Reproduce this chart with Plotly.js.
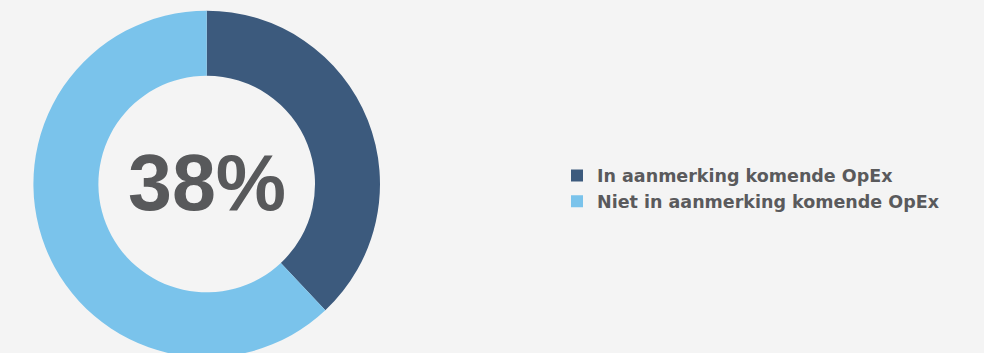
<!DOCTYPE html>
<html>
<head>
<meta charset="utf-8">
<script src="https://cdn.plot.ly/plotly-3.0.1.min.js"></script>
<style>
html,body{margin:0;padding:0;overflow:hidden;background:#F4F4F4;}
#chart{width:984px;height:368px;}
</style>
</head>
<body>
<div id="chart"></div>
<script>
const labels = ["In aanmerking komende OpEx", "Niet in aanmerking komende OpEx"];
const values = [38, 62];
const colors = ["#3C5A7D", "#7AC3EB"];
const centerLabel = "38%";

const W = 984, H = 368;
const cx = 206.7, r = 173.3;

const data = [{
  type: "pie",
  labels: labels,
  values: values,
  hole: 0.625,
  sort: false,
  direction: "clockwise",
  rotation: 0,
  textinfo: "none",
  hoverinfo: "label+percent",
  marker: {colors: colors, line: {width: 0}},
  domain: {x: [(cx - r) / W, (cx + r) / W], y: [0, 1]}
}];

const layout = {
  width: W, height: H,
  margin: {l: 0, r: 0, t: 0, b: 0},
  paper_bgcolor: "#F4F4F4",
  plot_bgcolor: "#F4F4F4",
  showlegend: true,
  legend: {
    x: 557 / W, xanchor: "left",
    y: 1 - 188.5 / H, yanchor: "middle",
    font: {family: "DejaVu Sans, Verdana, sans-serif", size: 17.5, color: "#5A5A5C", weight: "bold"},
    bgcolor: "rgba(0,0,0,0)"
  },
  annotations: [{
    text: "<b>" + centerLabel + "</b>",
    x: (cx + 0.5) / W, y: 1 - 182 / H, xref: "paper", yref: "paper",
    xanchor: "center", yanchor: "middle", showarrow: false,
    font: {family: "Liberation Sans, Arial, sans-serif", size: 79, color: "#58595B"}
  }]
};

Plotly.newPlot("chart", data, layout, {displayModeBar: false, staticPlot: true});
</script>
</body>
</html>
